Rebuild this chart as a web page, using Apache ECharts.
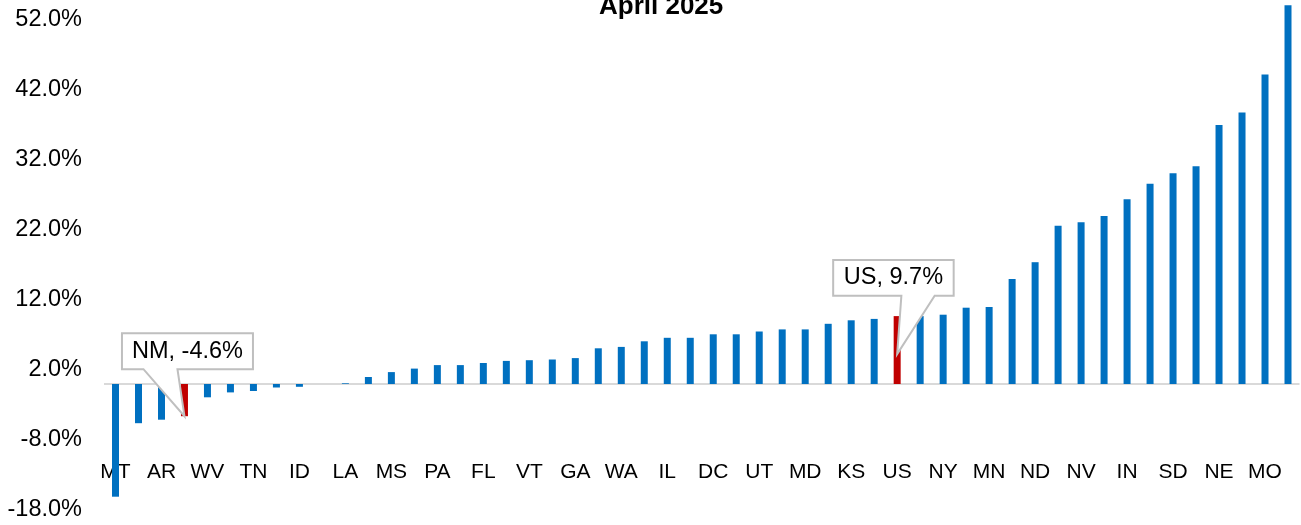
<!DOCTYPE html>
<html>
<head>
<meta charset="utf-8">
<script src="https://cdn.jsdelivr.net/npm/echarts@6/dist/echarts.min.js"></script>
<style>
html,body{margin:0;padding:0;background:#fff;}
#chart{width:1301px;height:525px;}
</style>
</head>
<body>
<div id="chart"></div>
<script>
const titleText = 'April 2025';
const categories = ['MT','AL','AR','NM','WV','AK','TN','AZ','ID','CA','LA','CO','MS','CT','PA','DE','FL','HI','VT','IA',
  'GA','KY','WA','MA','IL','ME','DC','MI','UT','NC','MD','NH','KS','NJ','US','OH','NY','OK','MN','OR',
  'ND','RI','NV','SC','IN','TX','SD','VA','NE','WI','MO','WY'];
const values = [-16.1,-5.6,-5.1,-4.6,-1.9,-1.2,-1.0,-0.5,-0.4,0.0,0.1,1.0,1.7,2.2,2.7,2.7,3.0,3.3,3.4,3.5,
  3.7,5.1,5.3,6.1,6.6,6.6,7.1,7.1,7.5,7.8,7.8,8.6,9.1,9.3,9.7,9.7,9.9,10.9,11.0,15.0,
  17.4,22.6,23.1,24.0,26.4,28.6,30.1,31.1,37.0,38.8,44.2,54.1];
const highlighted = ['NM','US'];
const yMin = -18, yMax = 62, yStep = 10;

const BLUE = '#0070C0', RED = '#C00000';
const chart = echarts.init(document.getElementById('chart'), null, {renderer:'canvas'});
const FONT = 'Liberation Sans, Arial, sans-serif';

chart.setOption({
  animation:false,
  backgroundColor:'#fff',
  title:{text:titleText, left:599, top:-6, padding:0,
    textStyle:{fontFamily:FONT, fontSize:26, fontWeight:'bold', color:'#000'}},
  grid:{left:104, right:1.5, top:-50, bottom:15, containLabel:false, outerBoundsMode:'none'},
  xAxis:{type:'category', data:categories, boundaryGap:true,
    axisLine:{show:false, onZero:false},
    axisTick:{show:false},
    axisLabel:{interval:1, margin:-48, fontFamily:FONT, fontSize:21, color:'#000'}},
  yAxis:{type:'value', min:yMin, max:yMax, interval:yStep,
    axisLine:{show:false}, axisTick:{show:false}, splitLine:{show:false},
    axisLabel:{margin:22, fontFamily:FONT, fontSize:23.5, color:'#000',
      formatter:v=> (v >= yMax ? '' : v.toFixed(1)+'%')}},
  series:[{type:'bar', barWidth:7, z:3,
    data: values.map((v,i)=>({value:v, itemStyle:{color: highlighted.includes(categories[i]) ? RED : BLUE}})),
    markLine:{silent:true, symbol:['none','none'], label:{show:false}, z:1,
      lineStyle:{color:'#D9D9D9', width:2, type:'solid'}, data:[{yAxis:0}]}
  }]
});

function callout(cat, tipFrac, box, base){
  const i = categories.indexOf(cat);
  const v = values[i];
  const tip = chart.convertToPixel({gridIndex:0}, [cat, v*tipFrac]);
  const tx = tip[0], ty = tip[1];
  const L = tx+box[0], R = tx+box[1], T = ty+box[2], B = ty+box[3];
  const pts = [[L,T],[R,T],[R,B],[tx+base[1],B],[tx,ty],[tx+base[0],B],[L,B]];
  return [
    {type:'polygon', shape:{points:pts}, style:{fill:'#fff', stroke:'#BFBFBF', lineWidth:2}, z:100},
    {type:'text', x:(L+R)/2, y:(T+B)/2, z:101,
      style:{text: cat+', '+v.toFixed(1)+'%', fontFamily:FONT, fontSize:23.5, fill:'#000', align:'center', verticalAlign:'middle'}}
  ];
}

chart.setOption({graphic:[
  ...callout('NM', 1, [-62.5, 68.5, -83, -47], [-41, -7]),
  ...callout('US', 0.44, [-64, 56.5, -94, -58.3], [4.2, 37.5])
]});
</script>
</body>
</html>
